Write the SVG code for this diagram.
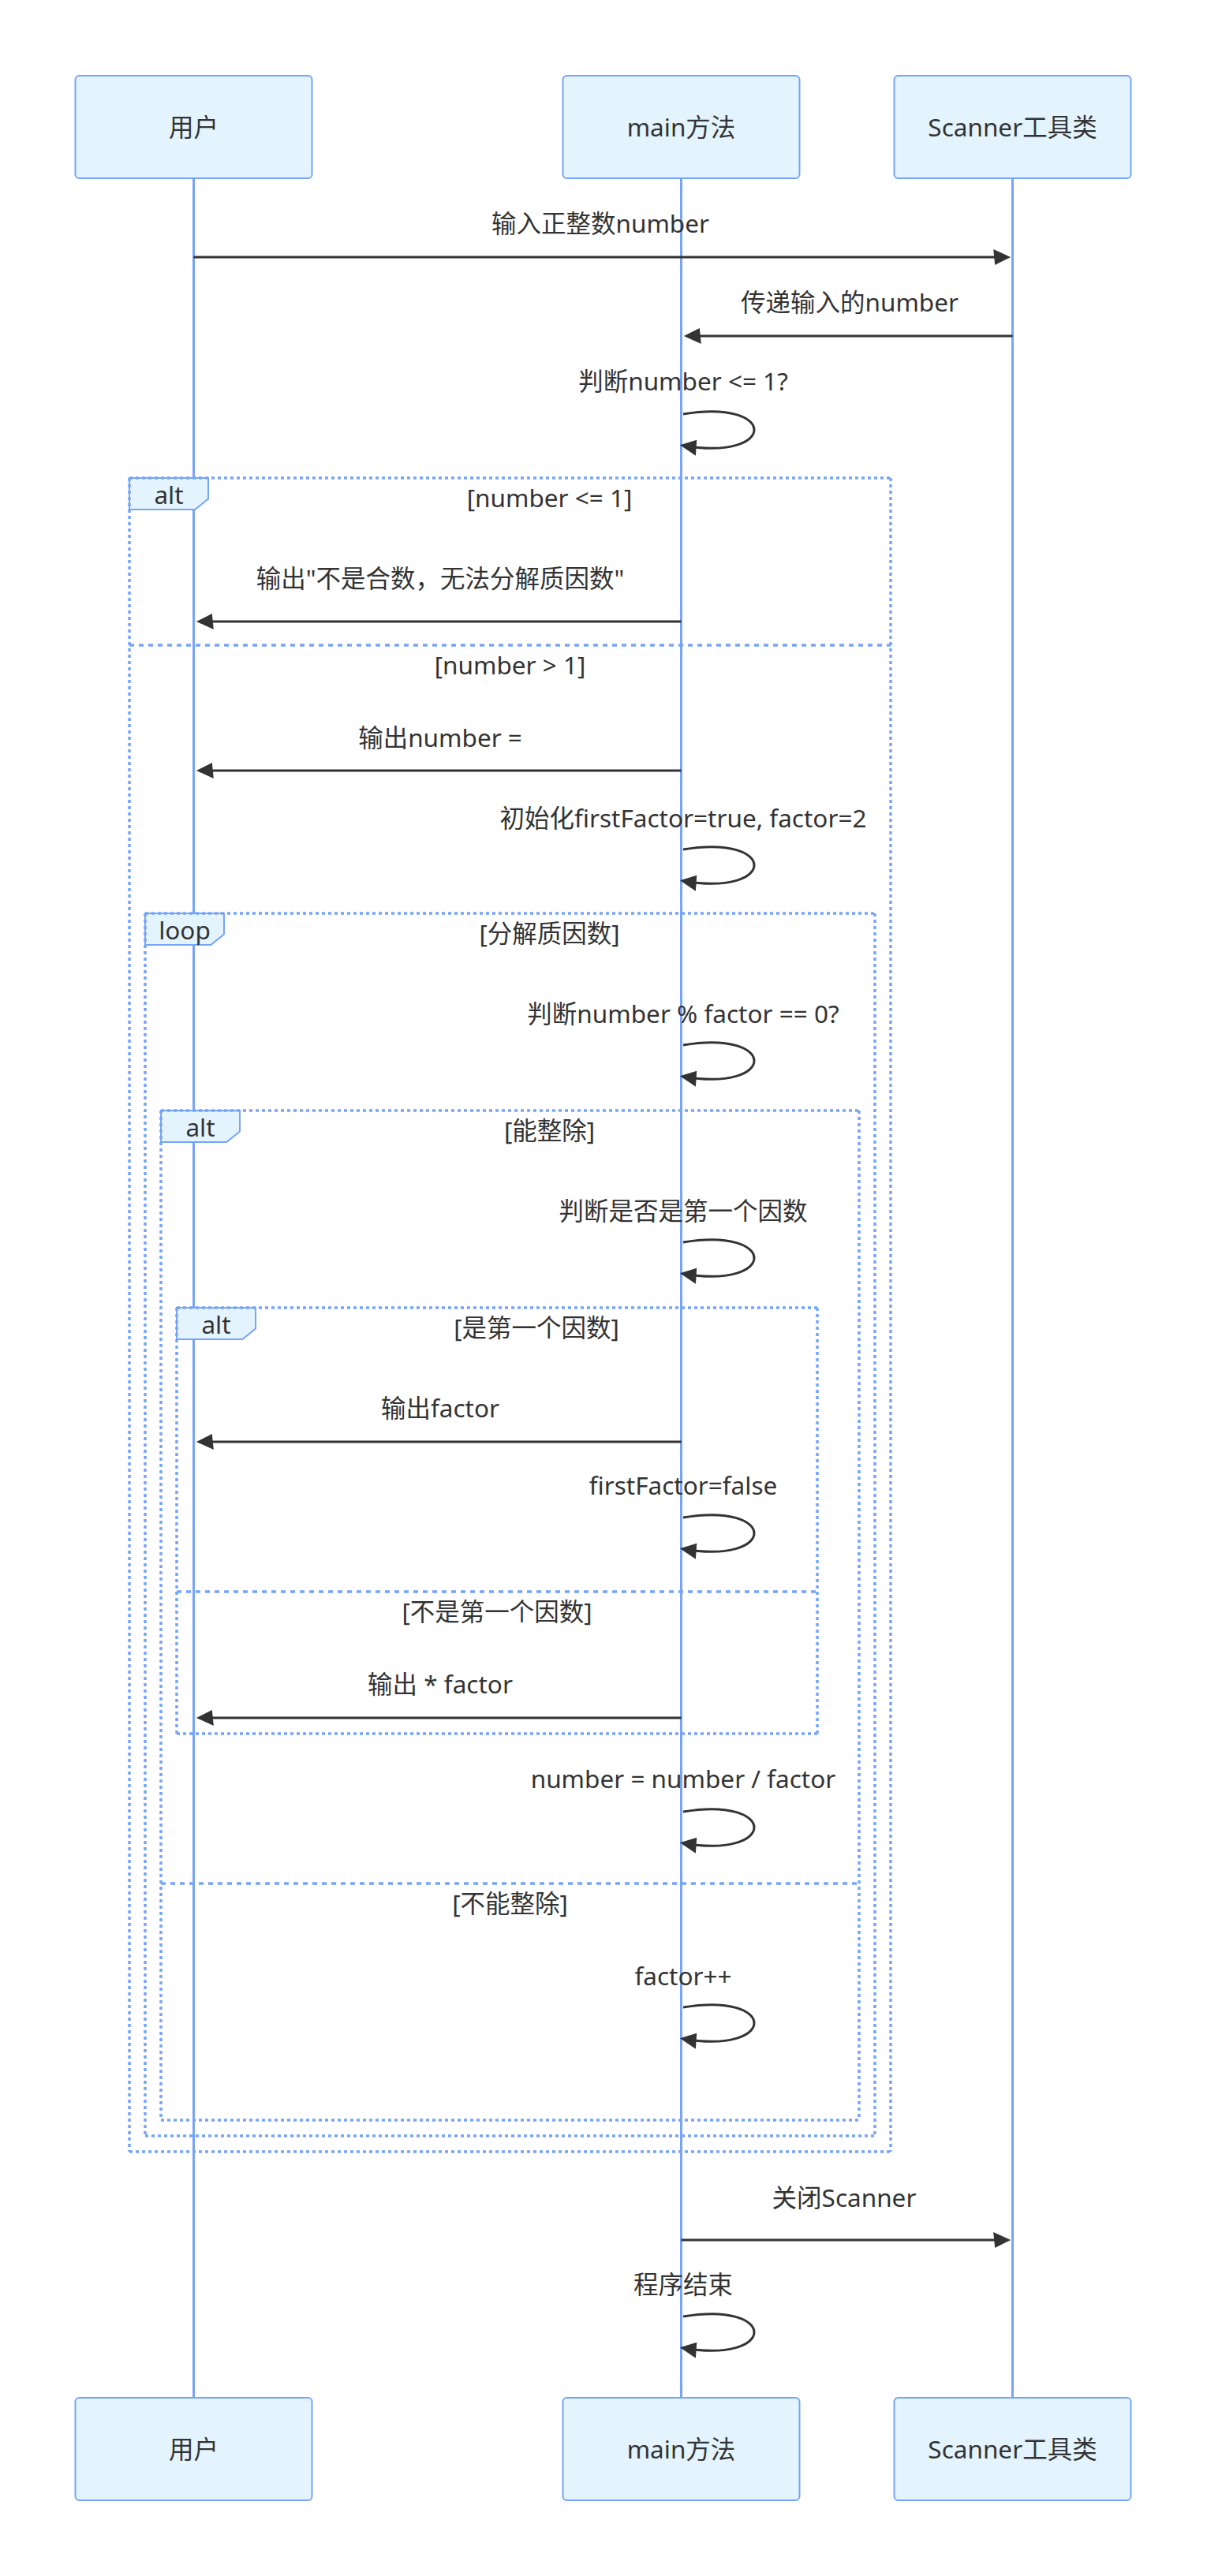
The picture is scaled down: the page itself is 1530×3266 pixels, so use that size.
<svg xmlns="http://www.w3.org/2000/svg" width="1530" height="3266" viewBox="0 0 1530 3266">
<style>
text{font-family:"Noto Sans","Noto Sans CJK SC",sans-serif;font-size:31.5px;fill:#333;text-anchor:middle}
.actor{fill:#e3f4fe;stroke:#76a4fa;stroke-width:2}
.life{stroke:#76a4fa;stroke-width:3}
.msg{stroke:#333;stroke-width:3;fill:none;marker-end:url(#ah)}
.lb{stroke:#76a4fa;stroke-width:3.5;stroke-dasharray:4 4;fill:none}
.sep{stroke:#76a4fa;stroke-width:3.5;stroke-dasharray:6 6;fill:none}
.lab{fill:#e3f4fe;stroke:#76a4fa;stroke-width:2}
</style>
<defs>
<marker id="ah" markerUnits="userSpaceOnUse" markerWidth="30" markerHeight="30" refX="15.8" refY="10" orient="auto" style="overflow:visible">
<path d="M -2 0 L 20 10 L 0 20 z" fill="#333"/>
</marker>
</defs>
<rect x="0" y="0" width="1530" height="3266" fill="#fff"/>
<g id="lifelines">
<line class="life" x1="245.5" y1="226" x2="245.5" y2="3040"/>
<line class="life" x1="863.5" y1="226" x2="863.5" y2="3040"/>
<line class="life" x1="1283.5" y1="226" x2="1283.5" y2="3040"/>
</g>
<g id="actor-user">
<rect class="actor" x="95.5" y="96" width="300" height="130" rx="5"/>
<text x="245.5" y="173">用户</text>
<rect class="actor" x="95.5" y="3040" width="300" height="130" rx="5"/>
<text x="245.5" y="3117">用户</text>
</g>
<g id="actor-main">
<rect class="actor" x="713.5" y="96" width="300" height="130" rx="5"/>
<text x="863.5" y="173">main方法</text>
<rect class="actor" x="713.5" y="3040" width="300" height="130" rx="5"/>
<text x="863.5" y="3117">main方法</text>
</g>
<g id="actor-scanner">
<rect class="actor" x="1133.5" y="96" width="300" height="130" rx="5"/>
<text x="1283.5" y="173">Scanner工具类</text>
<rect class="actor" x="1133.5" y="3040" width="300" height="130" rx="5"/>
<text x="1283.5" y="3117">Scanner工具类</text>
</g>
<g id="frame-alt1">
<polygon class="lab" points="164,606 264,606 264,632.6 247.2,646 164,646"/>
<line class="lb" x1="164" y1="606" x2="1129" y2="606"/>
<line class="lb" x1="1129" y1="606" x2="1129" y2="2728"/>
<line class="lb" x1="164" y1="2728" x2="1129" y2="2728"/>
<line class="lb" x1="164" y1="606" x2="164" y2="2728"/>
<line class="sep" x1="164" y1="818" x2="1129" y2="818"/>
<text x="214" y="638.5">alt</text>
<text x="696.5" y="643">[number &lt;= 1]</text>
<text x="646.5" y="855">[number &gt; 1]</text>
</g>
<g id="frame-loop">
<polygon class="lab" points="184,1158 284,1158 284,1184.6 267.2,1198 184,1198"/>
<line class="lb" x1="184" y1="1158" x2="1109" y2="1158"/>
<line class="lb" x1="1109" y1="1158" x2="1109" y2="2708"/>
<line class="lb" x1="184" y1="2708" x2="1109" y2="2708"/>
<line class="lb" x1="184" y1="1158" x2="184" y2="2708"/>
<text x="234" y="1190.5">loop</text>
<text x="696.5" y="1195">[分解质因数]</text>
</g>
<g id="frame-alt2">
<polygon class="lab" points="204,1408 304,1408 304,1434.6 287.2,1448 204,1448"/>
<line class="lb" x1="204" y1="1408" x2="1089" y2="1408"/>
<line class="lb" x1="1089" y1="1408" x2="1089" y2="2688"/>
<line class="lb" x1="204" y1="2688" x2="1089" y2="2688"/>
<line class="lb" x1="204" y1="1408" x2="204" y2="2688"/>
<line class="sep" x1="204" y1="2388" x2="1089" y2="2388"/>
<text x="254" y="1440.5">alt</text>
<text x="696.5" y="1445">[能整除]</text>
<text x="646.5" y="2425">[不能整除]</text>
</g>
<g id="frame-alt3">
<polygon class="lab" points="224,1658 324,1658 324,1684.6 307.2,1698 224,1698"/>
<line class="lb" x1="224" y1="1658" x2="1036" y2="1658"/>
<line class="lb" x1="1036" y1="1658" x2="1036" y2="2198"/>
<line class="lb" x1="224" y1="2198" x2="1036" y2="2198"/>
<line class="lb" x1="224" y1="1658" x2="224" y2="2198"/>
<line class="sep" x1="224" y1="2018" x2="1036" y2="2018"/>
<text x="274" y="1690.5">alt</text>
<text x="680" y="1695">[是第一个因数]</text>
<text x="630" y="2055">[不是第一个因数]</text>
</g>
<g id="connectors">
<text x="761" y="295">输入正整数number</text>
<line class="msg" x1="245.5" y1="326" x2="1277" y2="326"/>
<text x="1077" y="395">传递输入的number</text>
<line class="msg" x1="1283.5" y1="426" x2="871" y2="426"/>
<text x="866" y="495">判断number &lt;= 1?</text>
<path class="msg" d="M 866 525 C 986 505, 986 585, 866 565"/>
<text x="558" y="745">输出"不是合数，无法分解质因数"</text>
<line class="msg" x1="863.5" y1="788" x2="253" y2="788"/>
<text x="558" y="947">输出number =</text>
<line class="msg" x1="863.5" y1="977" x2="253" y2="977"/>
<text x="866" y="1049">初始化firstFactor=true, factor=2</text>
<path class="msg" d="M 866 1077 C 986 1057, 986 1137, 866 1117"/>
<text x="866" y="1297">判断number % factor == 0?</text>
<path class="msg" d="M 866 1325 C 986 1305, 986 1385, 866 1365"/>
<text x="866" y="1547">判断是否是第一个因数</text>
<path class="msg" d="M 866 1575 C 986 1555, 986 1635, 866 1615"/>
<text x="558" y="1797">输出factor</text>
<line class="msg" x1="863.5" y1="1828" x2="253" y2="1828"/>
<text x="866" y="1895">firstFactor=false</text>
<path class="msg" d="M 866 1924 C 986 1904, 986 1984, 866 1964"/>
<text x="558" y="2147">输出 * factor</text>
<line class="msg" x1="863.5" y1="2178" x2="253" y2="2178"/>
<text x="866" y="2267">number = number / factor</text>
<path class="msg" d="M 866 2297 C 986 2277, 986 2357, 866 2337"/>
<text x="866" y="2517">factor++</text>
<path class="msg" d="M 866 2545 C 986 2525, 986 2605, 866 2585"/>
<text x="1070" y="2798">关闭Scanner</text>
<line class="msg" x1="863.5" y1="2840" x2="1277" y2="2840"/>
<text x="866" y="2908">程序结束</text>
<path class="msg" d="M 866 2937 C 986 2917, 986 2997, 866 2977"/>
</g>
</svg>
